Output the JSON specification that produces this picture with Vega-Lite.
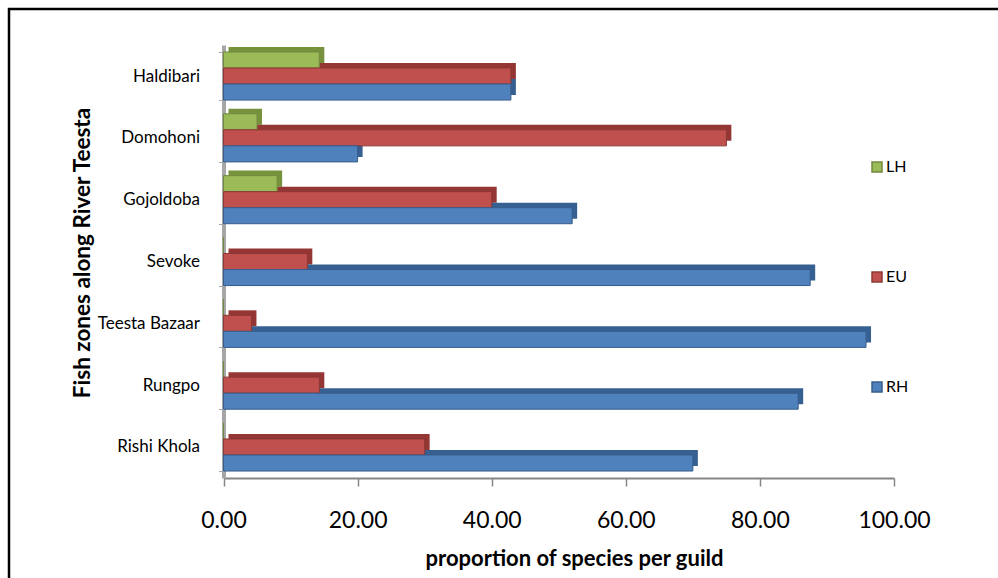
{
  "$schema": "https://vega.github.io/schema/vega-lite/v6.json",
  "autosize": "none",
  "padding": {"left": 9, "top": 9, "right": 0, "bottom": 0},
  "width": 1000,
  "height": 580,
  "background": "white",
  "config": {
    "view": {"stroke": "#000000", "strokeWidth": 2.5},
    "font": "Lato"
  },
  "data": {
    "values": [
      {"zone": "Haldibari", "guild": "LH", "value": 14.29},
      {"zone": "Haldibari", "guild": "EU", "value": 42.86},
      {"zone": "Haldibari", "guild": "RH", "value": 42.86},
      {"zone": "Domohoni", "guild": "LH", "value": 5.0},
      {"zone": "Domohoni", "guild": "EU", "value": 75.0},
      {"zone": "Domohoni", "guild": "RH", "value": 20.0},
      {"zone": "Gojoldoba", "guild": "LH", "value": 8.0},
      {"zone": "Gojoldoba", "guild": "EU", "value": 40.0},
      {"zone": "Gojoldoba", "guild": "RH", "value": 52.0},
      {"zone": "Sevoke", "guild": "LH", "value": 0.0},
      {"zone": "Sevoke", "guild": "EU", "value": 12.5},
      {"zone": "Sevoke", "guild": "RH", "value": 87.5},
      {"zone": "Teesta Bazaar", "guild": "LH", "value": 0.0},
      {"zone": "Teesta Bazaar", "guild": "EU", "value": 4.17},
      {"zone": "Teesta Bazaar", "guild": "RH", "value": 95.83},
      {"zone": "Rungpo", "guild": "LH", "value": 0.0},
      {"zone": "Rungpo", "guild": "EU", "value": 14.29},
      {"zone": "Rungpo", "guild": "RH", "value": 85.71},
      {"zone": "Rishi Khola", "guild": "LH", "value": 0.0},
      {"zone": "Rishi Khola", "guild": "EU", "value": 30.0},
      {"zone": "Rishi Khola", "guild": "RH", "value": 70.0}
    ]
  },
  "encoding": {
    "y": {
      "field": "zone",
      "type": "nominal",
      "sort": ["Haldibari", "Domohoni", "Gojoldoba", "Sevoke", "Teesta Bazaar", "Rungpo", "Rishi Khola"],
      "scale": {"range": [36.1, 468.9], "paddingInner": 0.222, "paddingOuter": 0.111},
      "axis": {
        "orient": "left",
        "offset": -214.5,
        "title": "Fish zones along River Teesta",
        "titleFont": "Lato",
        "titleFontSize": 22.5,
        "titleFontWeight": "bold",
        "titleColor": "#000000",
        "titlePadding": 3,
        "titleY": 243.5,
        "labelFont": "Lato",
        "labelFontSize": 17,
        "labelColor": "#000000",
        "labelPadding": 19,
        "domainColor": "#A6A6A6",
        "domainWidth": 4,
        "tickBand": "extent",
        "tickColor": "#A6A6A6",
        "tickSize": 5
      }
    },
    "x": {
      "field": "value",
      "type": "quantitative",
      "scale": {"domain": [0, 100], "range": [214.5, 885], "nice": false},
      "axis": {
        "orient": "bottom",
        "offset": -111,
        "values": [0, 20, 40, 60, 80, 100],
        "format": ".2f",
        "grid": false,
        "labelFlush": false,
        "labelFont": "Lato",
        "labelFontSize": 23,
        "labelColor": "#000000",
        "labelPadding": 23,
        "tickSize": 8,
        "tickColor": "#868686",
        "tickWidth": 1.5,
        "domainColor": "#868686",
        "domainWidth": 2,
        "title": "proportion of species per guild",
        "titleFont": "Lato",
        "titleFontSize": 22,
        "titleFontWeight": "bold",
        "titleColor": "#000000",
        "titlePadding": 16,
        "titleX": 565
      }
    }
  },
  "layer": [
    {
      "mark": {"type": "bar", "xOffset": 5},
      "encoding": {
        "yOffset": {
          "field": "guild",
          "type": "nominal",
          "sort": ["LH", "EU", "RH"],
          "scale": {"paddingInner": 0, "range": [-5, 43.1]}
        },
        "color": {
          "field": "guild",
          "type": "nominal",
          "sort": ["LH", "EU", "RH"],
          "scale": {"range": ["#76923C", "#943634", "#376092"]},
          "legend": null
        }
      }
    },
    {
      "mark": {"type": "bar", "strokeWidth": 1},
      "encoding": {
        "yOffset": {
          "field": "guild",
          "type": "nominal",
          "sort": ["LH", "EU", "RH"],
          "scale": {"paddingInner": 0}
        },
        "fill": {
          "field": "guild",
          "type": "nominal",
          "scale": {"domain": ["LH", "EU", "RH"], "range": ["#9BBB59", "#C0504D", "#4F81BD"]},
          "legend": {
            "title": null,
            "orient": "none",
            "legendX": 860,
            "legendY": 150,
            "direction": "vertical",
            "padding": 0,
            "symbolType": "square",
            "symbolSize": 100,
            "symbolStrokeWidth": 1.5,
            "labelFont": "Lato",
            "labelFontSize": 16,
            "labelColor": "#000000",
            "labelOffset": 1,
            "rowPadding": 94
          }
        },
        "stroke": {
          "field": "guild",
          "type": "nominal",
          "scale": {"domain": ["LH", "EU", "RH"], "range": ["#71893F", "#8C3836", "#385D8A"]},
          "legend": {
            "title": null,
            "orient": "none",
            "legendX": 860,
            "legendY": 150,
            "direction": "vertical",
            "padding": 0,
            "symbolType": "square",
            "symbolSize": 100,
            "symbolStrokeWidth": 1.5,
            "labelFont": "Lato",
            "labelFontSize": 16,
            "labelColor": "#000000",
            "labelOffset": 1,
            "rowPadding": 94
          }
        }
      }
    }
  ],
  "resolve": {"scale": {"yOffset": "independent"}}
}
